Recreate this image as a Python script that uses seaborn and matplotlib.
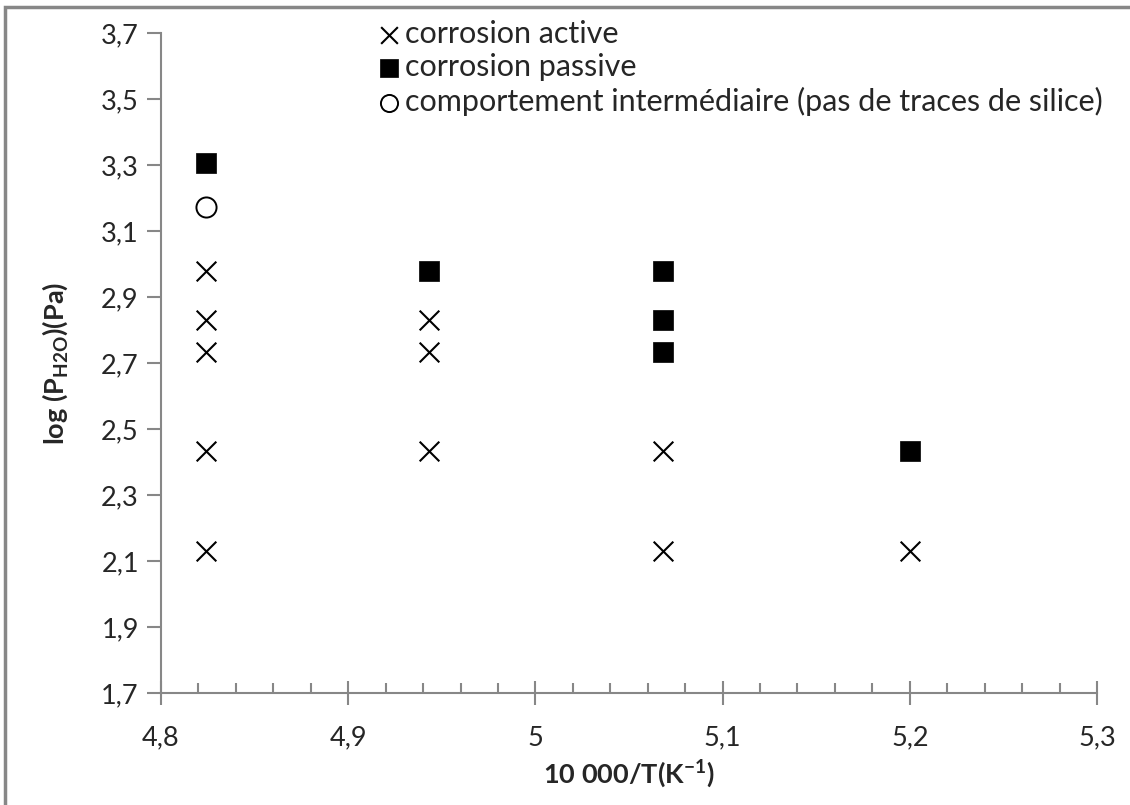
import matplotlib
matplotlib.use('Agg')
import matplotlib.pyplot as plt
import matplotlib.ticker as mticker
from matplotlib.patches import Rectangle
import numpy as np
import pandas as pd
import seaborn as sns

# données : 10 000/T et log(P_H2O)
x_active = [4.824, 4.824, 4.824, 4.824, 4.824, 4.943, 4.943, 4.943, 5.068, 5.068, 5.2]
y_active = [2.98, 2.831, 2.733, 2.433, 2.132, 2.831, 2.733, 2.433, 2.433, 2.132, 2.132]

x_passive = [4.824, 4.943, 5.068, 5.068, 5.068, 5.2]
y_passive = [3.307, 2.98, 2.98, 2.831, 2.733, 2.433]

x_inter = [4.824]
y_inter = [3.175]

labels = ['corrosion active', 'corrosion passive',
          'comportement intermédiaire (pas de traces de silice)']

df_active = pd.DataFrame({'x': x_active, 'y': y_active})
df_passive = pd.DataFrame({'x': x_passive, 'y': y_passive})
df_inter = pd.DataFrame({'x': x_inter, 'y': y_inter})

sns.set_style('white')
plt.rcParams['font.family'] = ['Lato', 'DejaVu Sans']

fig = plt.figure(figsize=(11.3, 8.05), dpi=100)
ax = fig.add_axes([0.1425, 0.139, 0.8283, 0.8196])

sns.scatterplot(data=df_active, x='x', y='y', marker='x', s=200, color='black',
                linewidth=1.5, label=labels[0], ax=ax)
sns.scatterplot(data=df_passive, x='x', y='y', marker='s', s=215, color='black',
                edgecolor='black', linewidth=0.5, label=labels[1], ax=ax)
sns.scatterplot(data=df_inter, x='x', y='y', marker='o', s=210, facecolor='white',
                edgecolor='black', linewidth=1.4, label=labels[2], ax=ax)

ax.set_xlim(4.8, 5.3)
ax.set_ylim(1.7, 3.7)
ax.xaxis.set_major_locator(mticker.MultipleLocator(0.1))
ax.xaxis.set_minor_locator(mticker.MultipleLocator(0.02))
ax.set_yticks(np.round(np.arange(1.7, 3.71, 0.2), 1))

ax.xaxis.set_major_formatter(mticker.FuncFormatter(lambda v, pos: f'{v:.10g}'.replace('.', ',')))
ax.yaxis.set_major_formatter(mticker.FuncFormatter(lambda v, pos: f'{v:.1f}'.replace('.', ',')))

gris = '#878787'
for s in ['top', 'right']:
    ax.spines[s].set_visible(False)
for s in ['left', 'bottom']:
    ax.spines[s].set_color(gris)
    ax.spines[s].set_linewidth(1.5)

ax.tick_params(axis='x', which='major', direction='inout', length=17, width=1.5,
               color=gris, labelsize=19.5, pad=15, bottom=True)
ax.tick_params(axis='x', which='minor', direction='in', length=7, width=1.5,
               color=gris, bottom=True)
ax.tick_params(axis='y', which='major', direction='out', length=10, width=1.5,
               color=gris, labelsize=19.5, pad=6, left=True)

ax.set_xlabel('10 000/T(K$^{\\mathregular{-1}}$)', fontsize=19.5, fontweight='bold', labelpad=5)
ax.set_ylabel('log (P$_{\\mathregular{H2O}}$)(Pa)', fontsize=19.5, fontweight='bold', labelpad=22)

leg = ax.legend(loc='upper left', bbox_to_anchor=(0.331, 0.975), bbox_transform=fig.transFigure,
                frameon=False, fontsize=22, handletextpad=0.0, labelspacing=0.17,
                markerscale=0.85, handlelength=1.0, borderaxespad=0, borderpad=0)

# cadre gris autour de la figure (style Excel)
fig.patches.append(Rectangle((0.0045, -0.5), 1.5, 1.4915, transform=fig.transFigure,
                             fill=False, edgecolor=gris, linewidth=2.5))

fig.savefig('out.png', dpi=100)
